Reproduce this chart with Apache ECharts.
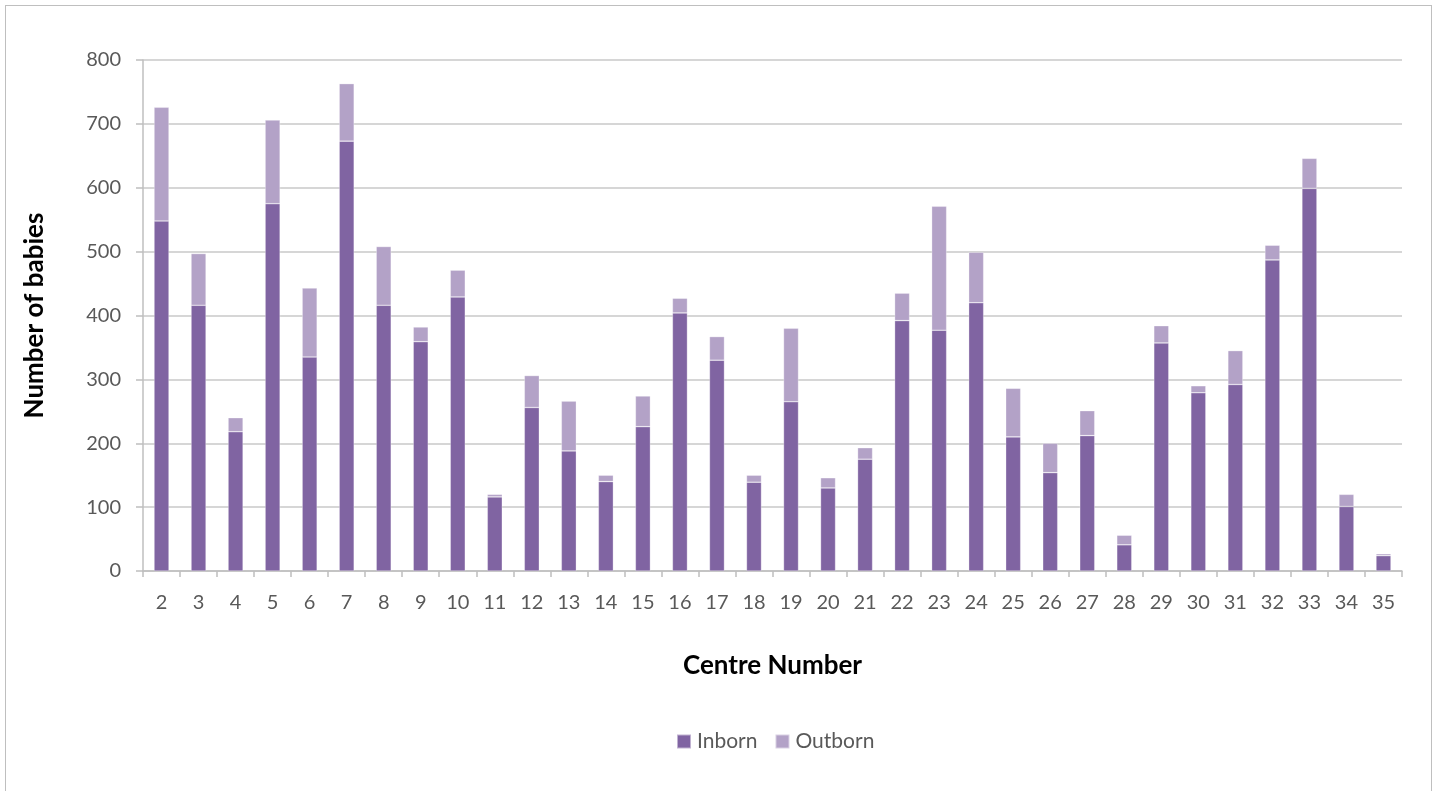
<!DOCTYPE html>
<html>
<head>
<meta charset="utf-8">
<script src="https://cdn.jsdelivr.net/npm/echarts@6/dist/echarts.min.js"></script>
<style>
  html, body { margin: 0; padding: 0; background: #fff; }
  #frame { position: absolute; left: 5px; top: 5px; width: 1427px; height: 800px; border: 1px solid #bfbfbf; box-sizing: border-box; }
  #chart { position: absolute; left: 0; top: 0; width: 1439px; height: 791px; }
</style>
</head>
<body>
<div id="frame"></div>
<div id="chart"></div>
<script>
// Centre numbers along the x axis
const centres = ['2','3','4','5','6','7','8','9','10','11','12','13','14','15','16','17','18','19','20','21','22','23','24','25','26','27','28','29','30','31','32','33','34','35'];

// Babies born within each centre
const inborn = [548, 416, 218, 575, 335, 673, 416, 359, 429, 116, 256, 188, 140, 226, 404, 330, 139, 265, 130, 175, 392, 377, 420, 210, 154, 212, 41, 357, 279, 292, 487, 599, 101, 24];

// Babies transferred in from elsewhere
const outborn = [178, 81, 22, 131, 108, 90, 92, 23, 42, 4, 50, 78, 10, 48, 23, 37, 11, 115, 16, 18, 43, 194, 79, 76, 46, 39, 15, 27, 11, 53, 23, 47, 19, 3];

const yTicks = [0, 100, 200, 300, 400, 500, 600, 700, 800];

const FONT = 'Lato, "Open Sans", sans-serif';
const chart = echarts.init(document.getElementById('chart'), null, { renderer: 'canvas' });

chart.setOption({
  animation: false,
  textStyle: { fontFamily: FONT },
  grid: { left: 143, right: 37, top: 60, bottom: 220, containLabel: false },
  legend: {
    bottom: 34,
    left: 671,
    itemWidth: 14,
    itemHeight: 14,
    itemGap: 17,
    icon: 'rect',
    textStyle: { fontFamily: FONT, fontSize: 21, color: '#595959', padding: [0, 0, 0, 1] },
    data: ['Inborn', 'Outborn']
  },
  xAxis: {
    type: 'category',
    data: centres,
    name: 'Centre Number',
    nameLocation: 'middle',
    nameGap: 82,
    nameTextStyle: { fontFamily: FONT, fontSize: 26, fontWeight: 'bold', color: '#000' },
    axisLine: { lineStyle: { color: '#bfbfbf', width: 1.5 } },
    axisTick: { show: true, alignWithLabel: false, length: 6, lineStyle: { color: '#bfbfbf', width: 1.5 } },
    axisLabel: { fontFamily: FONT, fontSize: 20, color: '#595959', margin: 22 }
  },
  yAxis: {
    type: 'value',
    min: yTicks[0],
    max: yTicks[yTicks.length - 1],
    interval: 100,
    name: 'Number of babies',
    nameLocation: 'middle',
    nameGap: 95,
    nameRotate: 90,
    nameTextStyle: { fontFamily: FONT, fontSize: 26, fontWeight: 'bold', color: '#000' },
    axisLine: { show: true, lineStyle: { color: '#bfbfbf', width: 1.5 } },
    axisTick: { show: true, length: 7, lineStyle: { color: '#bfbfbf', width: 1.5 } },
    axisLabel: { fontFamily: FONT, fontSize: 20, color: '#595959', margin: 22 },
    splitLine: { show: true, lineStyle: { color: '#c8c8c8', width: 1.5 } }
  },
  series: [
    {
      name: 'Inborn',
      type: 'bar',
      stack: 'babies',
      barWidth: 15,
      data: inborn,
      itemStyle: { color: '#8064A2', borderColor: 'rgba(255,255,255,0.5)', borderWidth: 0.6 }
    },
    {
      name: 'Outborn',
      type: 'bar',
      stack: 'babies',
      barWidth: 15,
      data: outborn,
      itemStyle: { color: '#B3A2C7', borderColor: 'rgba(255,255,255,0.5)', borderWidth: 0.6 }
    }
  ]
});
</script>
</body>
</html>
